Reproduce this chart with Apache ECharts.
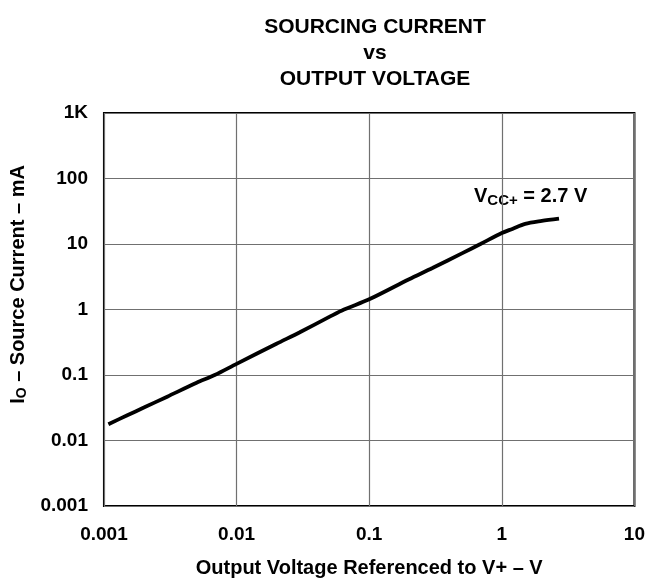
<!DOCTYPE html>
<html>
<head>
<meta charset="utf-8">
<script src="https://cdn.jsdelivr.net/npm/echarts@6/dist/echarts.min.js"></script>
<style>
  html, body { margin: 0; padding: 0; background: #fff; }
  #chart { width: 648px; height: 583px; }
</style>
</head>
<body>
<div id="chart"></div>
<script>
// output voltage referenced to V+ (V) and source current (mA)
var voltage = [0.00108, 0.0015, 0.002, 0.003, 0.005, 0.00684, 0.01, 0.02, 0.03, 0.05, 0.0646, 0.1, 0.2, 0.3, 0.5, 0.69, 1, 1.2, 1.5, 2, 2.7];
var current = [0.0177, 0.0243, 0.0318, 0.0467, 0.076, 0.1, 0.148, 0.30, 0.45, 0.77, 1, 1.43, 2.9, 4.3, 7.2, 10, 14.7, 17, 20.3, 22.5, 24.4];
var yTickLabels = { '0.001': '0.001', '0.01': '0.01', '0.1': '0.1', '1': '1', '10': '10', '100': '100', '1000': '1K' };

var font = '"Liberation Sans", Arial, sans-serif';

var chart = echarts.init(document.getElementById('chart'));

var points = [];
for (var i = 0; i < voltage.length; i++) {
    points.push([voltage[i], current[i]]);
}

function fmtY(v) {
    var key = String(parseFloat(v.toPrecision(3)));
    return yTickLabels[key] !== undefined ? yTickLabels[key] : key;
}

var option = {
    animation: false,
    backgroundColor: '#fff',
    title: {
        text: 'SOURCING CURRENT\nvs\nOUTPUT VOLTAGE',
        left: 370,
        textAlign: 'center',
        top: 9,
        textStyle: {
            fontFamily: font,
            fontWeight: 'bold',
            fontSize: 21,
            lineHeight: 26,
            color: '#000'
        }
    },
    grid: {
        left: 102,
        right: 12,
        top: 113,
        bottom: 74,
        show: true,
        borderColor: '#000',
        borderWidth: 2,
        backgroundColor: 'transparent'
    },
    xAxis: {
        type: 'log',
        logBase: 10,
        min: 0.001,
        max: 10,
        name: 'Output Voltage Referenced to V+ \u2013 V',
        nameLocation: 'middle',
        nameGap: 52,
        nameTextStyle: { fontFamily: font, fontWeight: 'bold', fontSize: 20, color: '#000' },
        axisLine: { show: false },
        axisTick: { show: false },
        axisLabel: {
            margin: 19,
            fontFamily: font,
            fontWeight: 'bold',
            fontSize: 19,
            color: '#000',
            formatter: function (v) { return String(parseFloat(v.toPrecision(3))); }
        },
        splitLine: { show: true, lineStyle: { color: '#707070', width: 1.2 } }
    },
    yAxis: {
        type: 'log',
        logBase: 10,
        min: 0.001,
        max: 1000,
        name: '{n|I}{s|O}{n| \u2013 Source Current \u2013 mA}',
        nameLocation: 'middle',
        nameGap: 72,
        nameRotate: 90,
        nameTextStyle: {
            padding: [0, 0, 0, 50],
            rich: {
                n: { fontFamily: font, fontWeight: 'bold', fontSize: 20, color: '#000' },
                s: { fontFamily: font, fontWeight: 'bold', fontSize: 14, color: '#000', padding: [9, 0, 0, 0] }
            }
        },
        axisLine: { show: false },
        axisTick: { show: false },
        axisLabel: {
            margin: 16,
            fontFamily: font,
            fontWeight: 'bold',
            fontSize: 19,
            color: '#000',
            formatter: fmtY
        },
        splitLine: { show: true, lineStyle: { color: '#707070', width: 1.2 } }
    },
    series: [{
        type: 'line',
        data: points,
        smooth: 0.3,
        showSymbol: false,
        lineStyle: { color: '#000', width: 3.8 }
    }],
    graphic: [{
        type: 'text',
        left: 474,
        top: 186,
        style: {
            text: '{n|V}{s|CC+}{n| = 2.7 V}',
            rich: {
                n: { fontFamily: font, fontWeight: 'bold', fontSize: 20, fill: '#000' },
                s: { fontFamily: font, fontWeight: 'bold', fontSize: 15, fill: '#000', padding: [9, 0, 0, 0] }
            }
        }
    }]
};

chart.setOption(option);
</script>
</body>
</html>
